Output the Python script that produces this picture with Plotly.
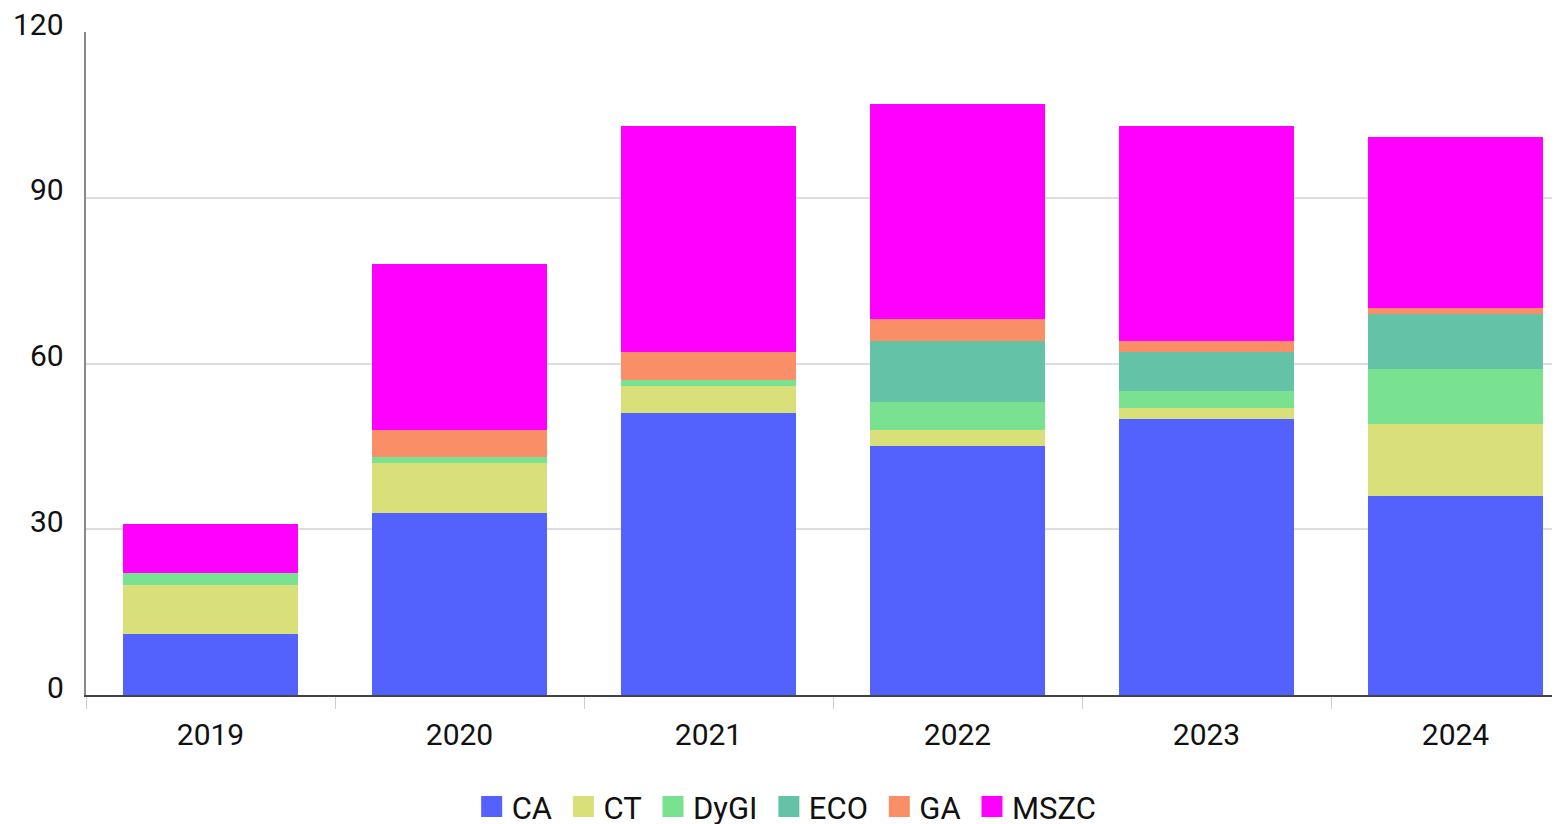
import plotly.graph_objects as go

years = ["2019", "2020", "2021", "2022", "2023", "2024"]
series_names = ["CA", "CT", "DyGI", "ECO", "GA", "MSZC"]
CA = [11, 33, 51, 45, 50, 36]
CT = [9, 9, 5, 3, 2, 13]
DyGI = [2, 1, 1, 5, 3, 10]
ECO = [0, 0, 0, 11, 7, 10]
GA = [0, 5, 5, 4, 2, 1]
MSZC = [9, 30, 41, 39, 39, 31]
values = [CA, CT, DyGI, ECO, GA, MSZC]
colors = ["#5361fd", "#d9df79", "#79e291", "#64c3a6", "#fa8e67", "#ff00ff"]
y_ticks = [0, 30, 60, 90, 120]

fig = go.Figure()
for name, vals, col in zip(series_names, values, colors):
    fig.add_trace(go.Bar(x=years, y=vals, name=name, marker=dict(color=col, line=dict(width=0)),
                         showlegend=False))
for name, col in zip(series_names, colors):
    fig.add_trace(go.Scatter(x=[None], y=[None], mode="markers", name=name + "\u2009",
                             marker=dict(symbol="square", size=16, color=col,
                                         line=dict(color=col, width=5))))

# y tick labels as annotations (slightly raised above gridlines, like the reference)
for v in y_ticks:
    fig.add_annotation(x=0, xref="paper", y=v, yref="y", text=str(v), showarrow=False,
                       xanchor="right", yanchor="middle", xshift=-20, yshift=8,
                       font=dict(family="Roboto", size=30, color="#111111"))

fig.update_layout(
    barmode="stack",
    bargap=0.3,
    width=1572, height=824,
    margin=dict(l=78, r=0, t=24, b=137, autoexpand=False),
    paper_bgcolor="white", plot_bgcolor="white",
    font=dict(family="Roboto", size=30, color="#111111"),
    legend=dict(orientation="h", x=0.471, xanchor="center",
                y=-0.128, yanchor="top", font=dict(size=31), itemwidth=30,
                tracegroupgap=0, traceorder="normal"),
)
fig.update_xaxes(type="category", showline=True, linecolor="#444444", linewidth=1.5,
                 ticks="outside", tickson="boundaries", ticklen=12, tickcolor="#cccccc",
                 showgrid=False, ticklabelstandoff=12)
fig.update_yaxes(range=[0, 120], tickvals=y_ticks, showticklabels=False, showline=True,
                 linecolor="#888888", linewidth=1.5,
                 gridcolor="#dddddd", gridwidth=1.5, zeroline=False)

fig.write_html("out.html")
